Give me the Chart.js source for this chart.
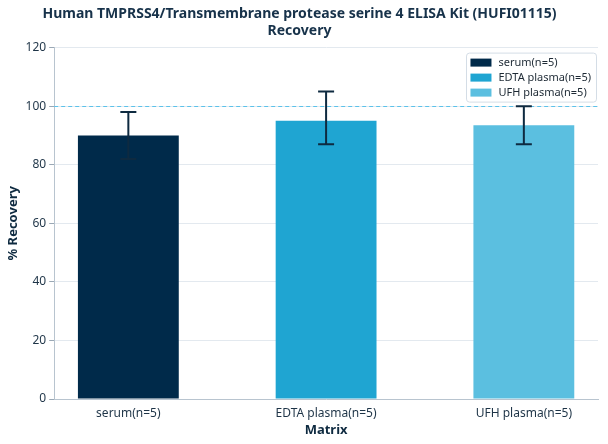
<!DOCTYPE html>
<html>
<head>
<meta charset="utf-8">
<script src="https://cdn.jsdelivr.net/npm/chart.js@4"></script>
<style>
  body { margin: 0; background: #fff; }
  #wrap { width: 608px; height: 444px; }
</style>
</head>
<body>
<div id="wrap"><canvas id="recoveryChart"></canvas></div>
<script>
// data
var categories = ["serum(n=5)", "EDTA plasma(n=5)", "UFH plasma(n=5)"];
var recovery = [90, 95, 93.5];
var errLow = [82, 87, 87];
var errHigh = [98, 105, 100];
var yTicks = [0, 20, 40, 60, 80, 100, 120];
var colors = ["#002a4a", "#1fa5d2", "#5bbfe0"];

// one dataset per matrix so each gets its own legend entry
var datasets = categories.map(function (name, i) {
  return {
    label: name,
    data: [{ x: i, y: recovery[i] }],
    backgroundColor: colors[i],
    borderWidth: 0,
  };
});

var refLine = {
  id: "refLine",
  beforeDatasetsDraw: function (chart) {
    var ctx = chart.ctx, a = chart.chartArea;
    var y = Math.round(chart.scales.y.getPixelForValue(100)) + 0.5;
    ctx.save();
    ctx.strokeStyle = "#5cc2ea";
    ctx.lineWidth = 1;
    ctx.setLineDash([4, 3]);
    ctx.beginPath();
    ctx.moveTo(a.left, y);
    ctx.lineTo(a.right, y);
    ctx.stroke();
    ctx.restore();
  },
};

var errorBars = {
  id: "errorBars",
  afterDatasetsDraw: function (chart) {
    var ctx = chart.ctx, xs = chart.scales.x, ys = chart.scales.y;
    ctx.save();
    ctx.strokeStyle = "#0e2a40";
    ctx.lineWidth = 2;
    categories.forEach(function (c, i) {
      var x = xs.getPixelForValue(i);
      var top = ys.getPixelForValue(errHigh[i]);
      var bot = ys.getPixelForValue(errLow[i]);
      ctx.beginPath();
      ctx.moveTo(x, top); ctx.lineTo(x, bot);
      ctx.moveTo(x - 8, top); ctx.lineTo(x + 8, top);
      ctx.moveTo(x - 8, bot); ctx.lineTo(x + 8, bot);
      ctx.stroke();
    });
    ctx.restore();
  },
};

// legend drawn inside the plot, top right, with a light frame
var insideLegend = {
  id: "insideLegend",
  afterDraw: function (chart) {
    var ctx = chart.ctx, a = chart.chartArea;
    var ds = chart.data.datasets;
    ctx.save();
    ctx.font = "11px 'Noto Sans'";
    var w = 0;
    ds.forEach(function (d) { w = Math.max(w, ctx.measureText(d.label).width); });
    var boxW = w + 37, boxH = ds.length * 15 + 4;
    var left = a.right - 2 - boxW, top = a.top + 5;
    ctx.fillStyle = "rgba(255,255,255,0.85)";
    ctx.strokeStyle = "#d4dde6";
    ctx.lineWidth = 1;
    ctx.beginPath();
    ctx.roundRect(Math.round(left) + 0.5, top + 0.5, Math.round(boxW), boxH, 3);
    ctx.fill();
    ctx.stroke();
    ds.forEach(function (d, i) {
      var cy = top + 10 + i * 15;
      ctx.fillStyle = d.backgroundColor;
      ctx.fillRect(left + 4, cy - 4, 21, 8);
      ctx.fillStyle = "#1e2a35";
      ctx.textBaseline = "middle";
      ctx.fillText(d.label, left + 32, cy);
    });
    ctx.restore();
  },
};

var recoveryCtx = document.getElementById("recoveryChart").getContext("2d");
var recoveryChart = new Chart(recoveryCtx, {
  type: "bar",
  data: { datasets: datasets },
  plugins: [refLine, errorBars, insideLegend],
  options: {
    responsive: true,
    maintainAspectRatio: false,
    animation: false,
    layout: { padding: { left: 1, right: 10, top: 6, bottom: 2 } },
    datasets: { bar: { grouped: false, barPercentage: 0.51, categoryPercentage: 1 } },
    scales: {
      x: {
        type: "linear",
        offset: false,
        min: -0.375,
        max: 2.375,
        afterBuildTicks: function (axis) {
          axis.ticks = categories.map(function (c, i) { return { value: i }; });
        },
        grid: { display: false, offset: false, tickLength: 5, tickColor: "#9aa8b5" },
        border: { color: "#b8c4cf" },
        ticks: {
          color: "#1e3447",
          font: { family: "Noto Sans", size: 12 },
          padding: 2,
          callback: function (v) { return categories[v]; },
        },
        title: {
          display: true,
          text: "Matrix",
          color: "#0e2a40",
          font: { family: "Noto Sans", size: 13, weight: "bold" },
          padding: { top: 0 },
        },
      },
      y: {
        min: 0,
        max: 120,
        afterBuildTicks: function (axis) {
          axis.ticks = yTicks.map(function (v) { return { value: v }; });
        },
        grid: { color: "#e3e9ef", tickLength: 5, tickColor: "#9aa8b5" },
        border: { color: "#b8c4cf" },
        ticks: { color: "#1e3447", font: { family: "Noto Sans", size: 12 }, padding: 3 },
        title: {
          display: true,
          text: "% Recovery",
          color: "#0e2a40",
          font: { family: "Noto Sans", size: 13, weight: "bold" },
          padding: { bottom: 2 },
        },
      },
    },
    plugins: {
      title: {
        display: true,
        text: ["Human TMPRSS4/Transmembrane protease serine 4 ELISA Kit (HUFI01115)", "Recovery"],
        color: "#17324a",
        font: { family: "Noto Sans", size: 14, weight: "bold" },
        padding: { top: 0, bottom: 8 },
        lineHeight: 1.2,
      },
      legend: { display: false },
      tooltip: { enabled: false },
    },
  },
});
</script>
</body>
</html>
